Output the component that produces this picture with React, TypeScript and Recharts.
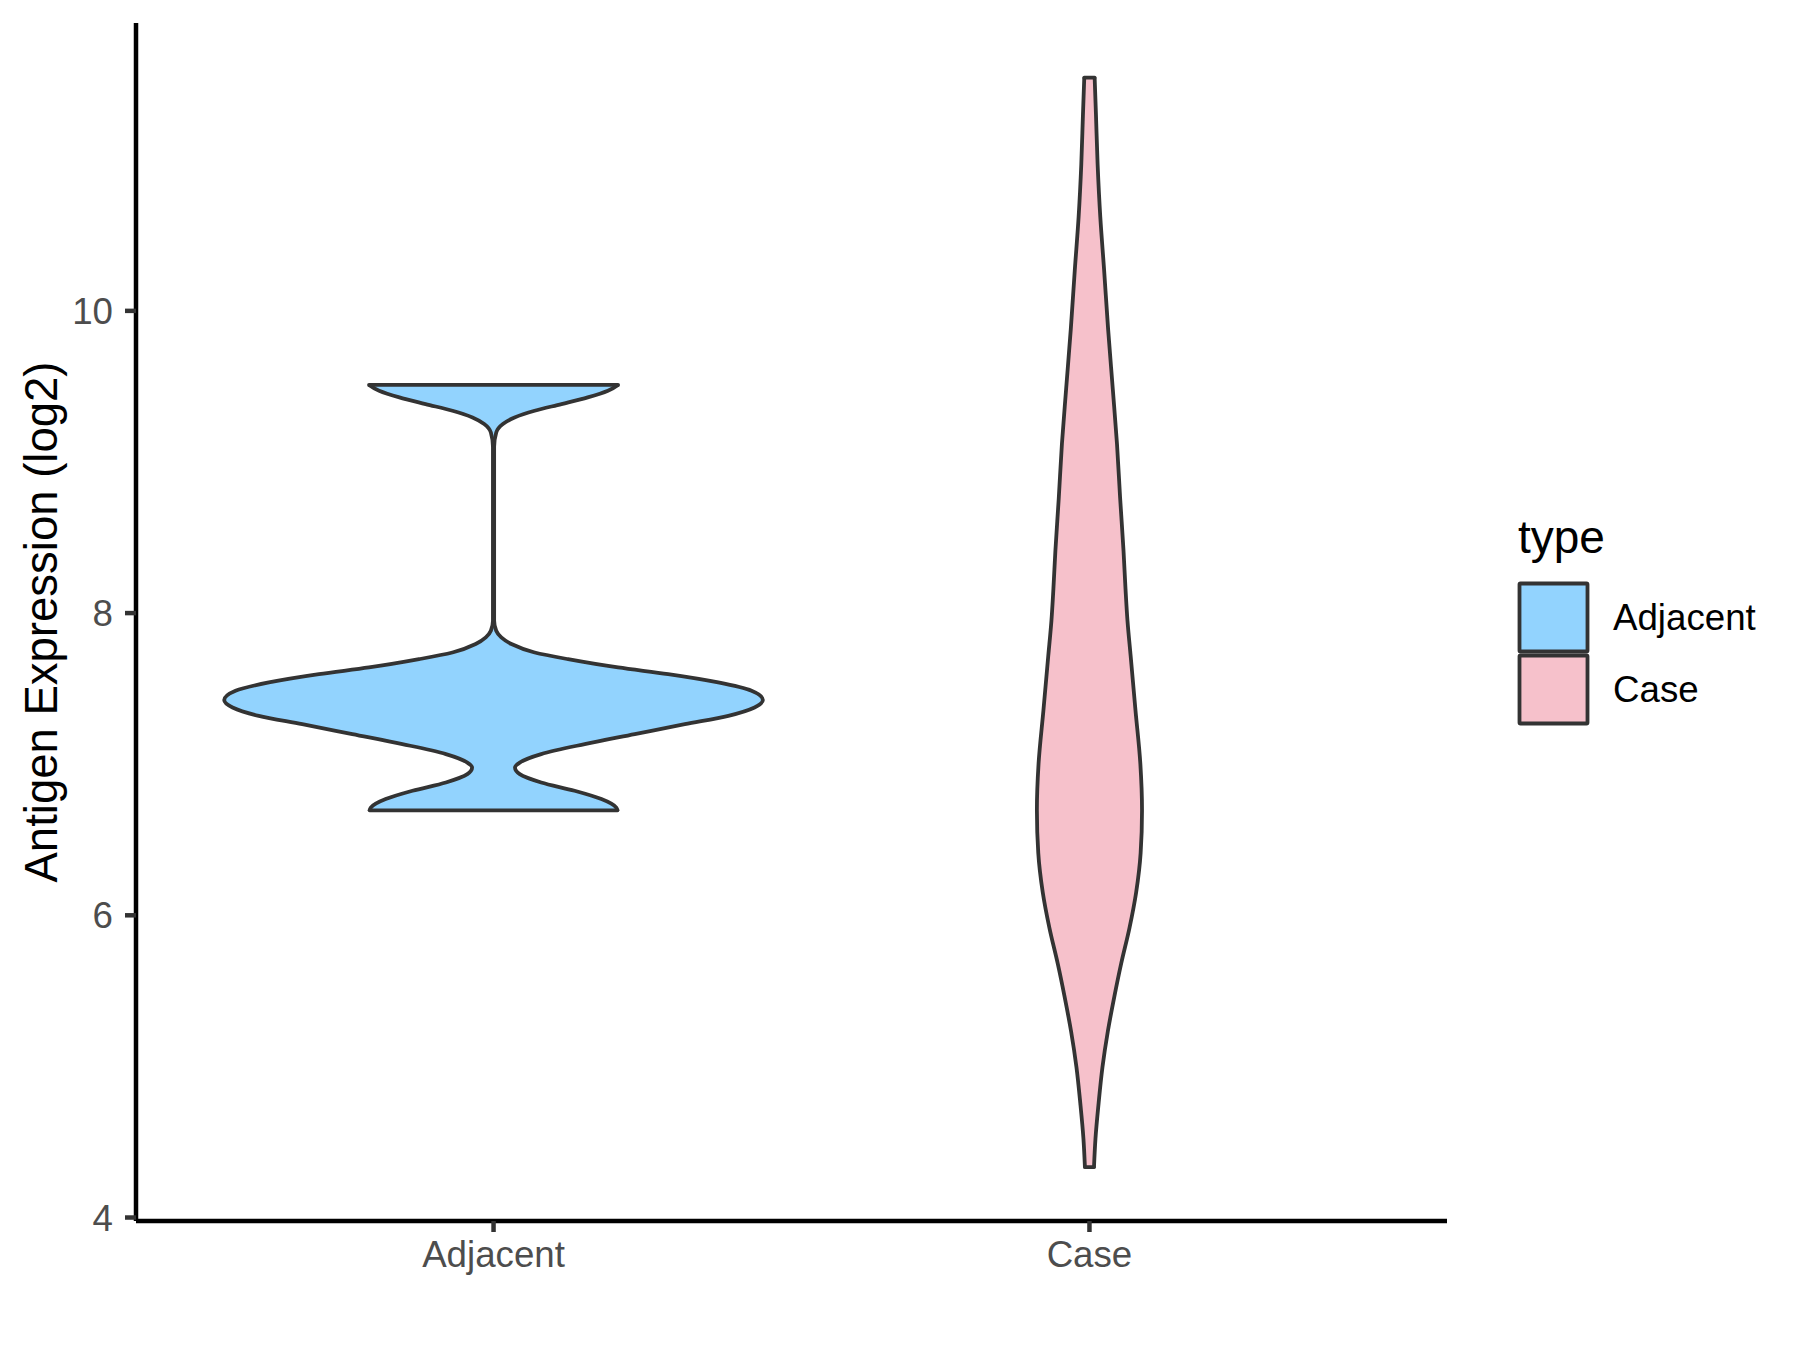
import React from "react";
import { Area, ComposedChart, Label, Legend, ReferenceLine, XAxis, YAxis } from "recharts";

document.body.style.margin = "0";

const categories = ["Adjacent", "Case"];
const fills = ["#92D3FE", "#F6C1CB"];
const outline = "#333333";
const font = "'Liberation Sans', Arial, sans-serif";

// violin outlines: level (log2) and half width in category units
const adjacentLevels = [
  6.695, 6.713, 6.769, 6.824, 6.879, 6.934, 6.978, 7.011, 7.067, 7.133, 7.199, 7.265, 7.32, 7.375,
  7.424, 7.486, 7.541, 7.596, 7.64, 7.695, 7.739, 7.795, 7.839, 7.883, 7.95, 8.5, 9.1, 9.195, 9.251,
  9.295, 9.339, 9.383, 9.427, 9.471, 9.51,
];
const adjacentWidths = [
  0.208, 0.206, 0.181, 0.136, 0.08, 0.044, 0.036, 0.044, 0.08, 0.153, 0.237, 0.321, 0.394, 0.438,
  0.452, 0.433, 0.377, 0.293, 0.209, 0.125, 0.069, 0.03, 0.013, 0.0045, 0.001, 0.001, 0.001, 0.0045,
  0.0157, 0.0353, 0.0689, 0.114, 0.158, 0.192, 0.209,
];
const caseLevels = [
  4.333, 4.522, 4.758, 4.995, 5.231, 5.467, 5.68, 5.917, 6.153, 6.413, 6.696, 7.003, 7.358, 7.713,
  7.95, 8.16, 8.41, 8.76, 9.12, 9.48, 9.88, 10.27, 10.62, 10.97, 11.3, 11.544,
];
const caseWidths = [
  0.0076, 0.0101, 0.0154, 0.0218, 0.0308, 0.042, 0.0532, 0.0672, 0.0784, 0.0859, 0.0882, 0.0854,
  0.0772, 0.0692, 0.0638, 0.0605, 0.0572, 0.0515, 0.0462, 0.0392, 0.0313, 0.0246, 0.0182, 0.0137,
  0.0109, 0.0087,
];

const yTicks = [4, 6, 8, 10];

type Row = { y: number; group: string; lo: number; hi: number };

function bodyRows(group: string, center: number, levels: number[], widths: number[]): Row[] {
  return levels
    .map((y, i) => ({ y, group, lo: center - widths[i], hi: center + widths[i] }))
    .sort((a, b) => b.y - a.y);
}

const violins = [
  { center: 1, levels: adjacentLevels, widths: adjacentWidths },
  { center: 2, levels: caseLevels, widths: caseWidths },
];

const rows: Row[] = violins.flatMap((v, i) => bodyRows(categories[i], v.center, v.levels, v.widths));

const rangeOf = (group: string) => (d: Row) =>
  d.group === group ? [d.lo, d.hi] : [null, null];

const lineW = 3.8;

function TypeLegend() {
  return (
    <svg width={300} height={250} style={{ display: "block" }}>
      <text x={18} y={53} fontSize={46} fontFamily={font} fill="#000">
        type
      </text>
      {categories.map((c, i) => (
        <g key={c}>
          <rect
            x={19.5}
            y={83.5 + i * 72}
            width={68}
            height={68}
            fill={fills[i]}
            stroke={outline}
            strokeWidth={lineW}
            rx={1}
          />
          <text x={113} y={130 + i * 72} fontSize={36.7} fontFamily={font} fill="#000">
            {c}
          </text>
        </g>
      ))}
    </svg>
  );
}

export default function App() {
  const tickStyle = { fill: "#4D4D4D", fontSize: 36.7, fontFamily: font };
  return (
    <ComposedChart
      width={1800}
      height={1350}
      data={rows}
      layout="vertical"
      margin={{ top: 23, right: 353, bottom: 49, left: 0 }}
    >
      <XAxis
        type="number"
        domain={[0.4, 2.6]}
        allowDataOverflow
        ticks={categories.map((_, i) => i + 1)}
        tickFormatter={(v: number) => categories[v - 1]}
        height={80}
        tickSize={11}
        tickMargin={9}
        tick={tickStyle}
        axisLine={{ stroke: "#000", strokeWidth: 4.5 }}
        tickLine={{ stroke: outline, strokeWidth: 4.5 }}
      />
      <YAxis
        type="number"
        dataKey="y"
        domain={[3.977, 11.905]}
        allowDataOverflow
        reversed
        ticks={yTicks}
        width={136}
        tickSize={11}
        tickMargin={12}
        tick={tickStyle}
        axisLine={{ stroke: "#000", strokeWidth: 4.5 }}
        tickLine={{ stroke: outline, strokeWidth: 4.5 }}
      >
        <Label
          content={({ viewBox }: any) => {
            const cx = (viewBox?.x ?? 0) + 57;
            const cy = (viewBox?.y ?? 0) + (viewBox?.height ?? 0) / 2;
            return (
              <text
                x={cx}
                y={cy}
                transform={`rotate(-90, ${cx}, ${cy})`}
                textAnchor="middle"
                fontSize={45.5}
                fontFamily={font}
                fill="#000"
              >
                Antigen Expression (log2)
              </text>
            );
          }}
        />
      </YAxis>
      {categories.map((c, i) => (
        <Area
          key={c}
          dataKey={rangeOf(c) as any}
          type="monotone"
          fill={fills[i]}
          fillOpacity={1}
          stroke={outline}
          strokeWidth={lineW}
          strokeLinejoin="round"
          connectNulls={false}
          dot={false}
          activeDot={false}
          isAnimationActive={false}
        />
      ))}
      {/* flat trimmed ends of each violin */}
      {violins.flatMap((v, vi) =>
        [0, v.levels.length - 1].map((k) => (
          <ReferenceLine
            key={`${vi}-${k}`}
            segment={[
              { x: v.center - v.widths[k], y: v.levels[k] },
              { x: v.center + v.widths[k], y: v.levels[k] },
            ]}
            stroke={outline}
            strokeWidth={lineW}
            strokeLinecap="round"
            ifOverflow="visible"
          />
        ))
      )}
      <Legend
        layout="vertical"
        align="center"
        verticalAlign="middle"
        wrapperStyle={{ left: 1500, top: 500, width: 300 }}
        content={() => <TypeLegend />}
      />
    </ComposedChart>
  );
}
